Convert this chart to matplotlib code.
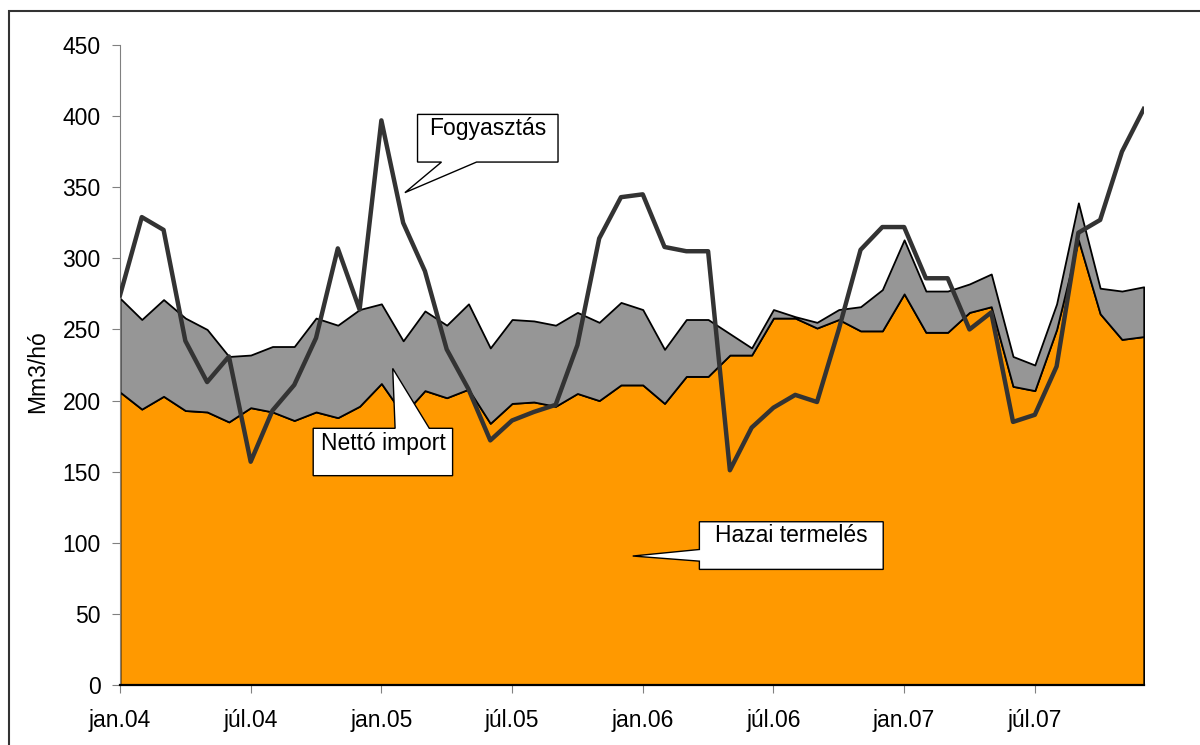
import numpy as np
import matplotlib.pyplot as plt
from matplotlib.patches import Polygon, Rectangle

plt.rcParams['font.family'] = ['Liberation Sans', 'DejaVu Sans']

# havi adatok, 2004 jan - 2007 dec (Mm3/hó)
honapok = np.arange(48)
hazai = [206, 194, 203, 193, 192, 185, 195, 192, 186, 192, 188, 196,
         212, 190, 207, 202, 208, 184, 198, 199, 196, 205, 200, 211,
         211, 198, 217, 217, 232, 232, 258, 258, 251, 257, 249, 249,
         275, 248, 248, 262, 266, 210, 207, 250, 313, 261, 243, 245]
osszes = [272, 257, 271, 258, 250, 231, 232, 238, 238, 258, 253, 264,
          268, 242, 263, 253, 268, 237, 257, 256, 253, 262, 255, 269,
          264, 236, 257, 257, 247, 237, 264, 259, 255, 264, 266, 278,
          313, 277, 277, 282, 289, 231, 225, 268, 339, 279, 277, 280]
netto_import = [o - h for o, h in zip(osszes, hazai)]
fogyasztas = [274, 329, 320, 242, 213, 231, 157, 193, 211, 244, 307, 264,
              397, 325, 291, 236, 208, 172, 186, 192, 197, 239, 314, 343,
              345, 308, 305, 305, 151, 181, 195, 204, 199, 250, 306, 322,
              322, 286, 286, 250, 262, 185, 190, 224, 318, 327, 375, 405]
tick_pos = [0, 6, 12, 18, 24, 30, 36, 42]
tick_labels = ['jan.04', 'júl.04', 'jan.05', 'júl.05',
               'jan.06', 'júl.06', 'jan.07', 'júl.07']

FS = 16.5

fig = plt.figure(figsize=(12, 7.45), dpi=100)
ax = fig.add_axes([0.1, 0.0805, 0.8531, 0.8591])

teteje = np.array(hazai) + np.array(netto_import)
ax.fill_between(honapok, 0, hazai, facecolor='#FF9900', edgecolor='black', linewidth=1.3, zorder=2)
ax.fill_between(honapok, hazai, teteje, facecolor='#969696', edgecolor='black', linewidth=1.3, zorder=2)
ax.plot(honapok, fogyasztas, color='#333333', linewidth=3.2, zorder=3)

ax.set_xlim(0, 47)
ax.set_ylim(0, 450)
ax.set_yticks(range(0, 451, 50))
ax.set_xticks(tick_pos)
ax.set_xticklabels(tick_labels)
for s in ['top', 'right']:
    ax.spines[s].set_visible(False)
ax.spines['left'].set_color('#808080')
ax.spines['bottom'].set_color('black')
ax.spines['bottom'].set_linewidth(1.6)
ax.tick_params(axis='both', direction='out', length=6, color='#808080', labelsize=FS)
ax.tick_params(axis='y', pad=8)
ax.tick_params(axis='x', pad=11)
ax.set_ylabel('Mm3/hó', fontsize=FS)
ax.yaxis.set_label_coords(-0.069, 0.49)


def callout(x0, x1, y_top, y_bot, wedge, text, text_y):
    # a csőr pontjai a doboz körvonalába kerülnek
    side, pts = wedge
    if side == 'bottom':
        verts = [(x0, y_top), (x1, y_top), (x1, y_bot)] + pts + [(x0, y_bot)]
    elif side == 'top':
        verts = [(x0, y_top)] + pts + [(x1, y_top), (x1, y_bot), (x0, y_bot)]
    else:  # bal oldal
        verts = [(x0, y_top), (x1, y_top), (x1, y_bot), (x0, y_bot)] + pts
    ax.add_patch(Polygon(verts, closed=True, facecolor='white', edgecolor='black',
                         linewidth=1.0, zorder=5, clip_on=False))
    ax.text((x0 + x1) / 2, text_y, text, ha='center', va='center', fontsize=FS, zorder=6)


callout(13.66, 20.11, 401.2, 367.7,
        ('bottom', [(16.37, 367.7), (13.08, 346.2), (14.76, 367.7)]),
        'Fogyasztás', 391)
callout(8.87, 15.27, 180.5, 147.2,
        ('top', [(12.63, 180.5), (12.52, 222.6), (14.20, 180.5)]),
        'Nettó import', 169.5)
callout(26.6, 35.04, 114.8, 81.3,
        ('left', [(26.6, 87.1), (23.54, 90.7), (26.6, 95.3)]),
        'Hazai termelés', 104.8)

# keret
fig.add_artist(Rectangle((9 / 1200, -0.1), 1.2, 1.1 - 11 / 745, transform=fig.transFigure,
                         fill=False, edgecolor='#333333', linewidth=1.5))

fig.savefig('out.png', dpi=100)
